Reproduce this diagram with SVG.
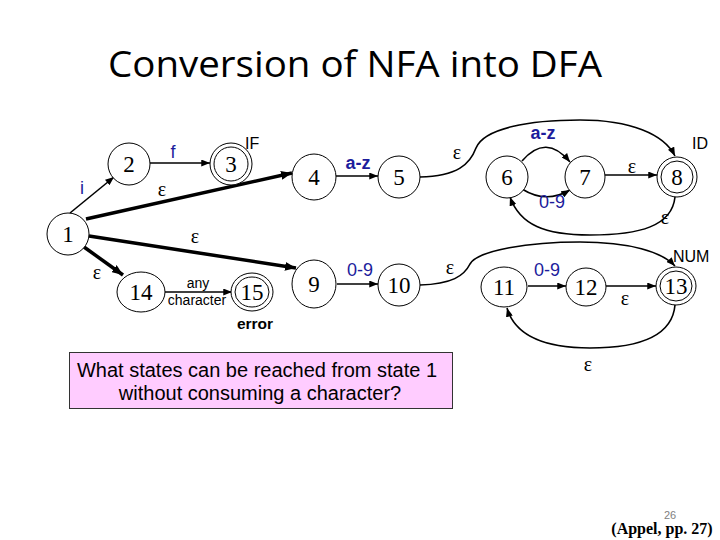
<svg xmlns="http://www.w3.org/2000/svg" width="720" height="540" viewBox="0 0 720 540">
<defs>
<marker id="ah" viewBox="0 0 10 8" refX="10" refY="4" markerWidth="9" markerHeight="7" markerUnits="userSpaceOnUse" orient="auto"><path d="M0,0 L10,4 L0,8 z" fill="#000"/></marker>
<marker id="ahb" viewBox="0 0 10 8" refX="10" refY="4" markerWidth="11" markerHeight="9" markerUnits="userSpaceOnUse" orient="auto"><path d="M0,0 L10,4 L0,8 z" fill="#000"/></marker>
<style>
.st{fill:#fff;stroke:#000;stroke-width:1}
.num{font-family:"Liberation Serif","Times New Roman",serif;font-size:23px;fill:#000;text-anchor:middle}
.e{font-family:"Liberation Serif","Times New Roman",serif;font-size:20px;fill:#000;text-anchor:middle}
.lb{font-family:"Liberation Sans",Arial,sans-serif;font-size:18px;fill:#1c1c9c;text-anchor:middle}
.tg{font-family:"Liberation Sans",Arial,sans-serif;font-size:16px;fill:#000}
.c{fill:none;stroke:#000;stroke-width:1.6}
.ct{fill:none;stroke:#000;stroke-width:3.5}
</style>
</defs>
<rect width="720" height="540" fill="#fff"/>
<text x="355" y="77" font-family="Open Sans,Liberation Sans,sans-serif" font-size="36" text-anchor="middle" textLength="494" lengthAdjust="spacingAndGlyphs">Conversion of NFA into DFA</text>

<g id="connectors">
<line class="c" x1="70" y1="213" x2="114" y2="177" marker-end="url(#ah)"/>
<line class="c" x1="150" y1="163" x2="210" y2="163" marker-end="url(#ah)"/>
<line class="ct" x1="86" y1="219" x2="292" y2="173" marker-end="url(#ahb)"/>
<line class="ct" x1="89" y1="236" x2="296" y2="268" marker-end="url(#ahb)"/>
<line class="ct" x1="84" y1="247" x2="123" y2="275" marker-end="url(#ahb)"/>
<line class="c" x1="165" y1="292" x2="232" y2="292" marker-end="url(#ah)"/>
<line class="c" x1="336" y1="176" x2="378" y2="176" marker-end="url(#ah)"/>
<line class="c" x1="337" y1="284" x2="378" y2="284" marker-end="url(#ah)"/>
<path class="c" d="M420,177 C458,176 470,164 476,148 C484,128 530,120 580,120 C630,120 664,134 675,156" marker-end="url(#ah)"/>
<path class="c" d="M522,161 Q546,133 570,162" marker-end="url(#ah)"/>
<path class="c" d="M522,189 Q546,204 570,190" marker-end="url(#ah)"/>
<line class="c" x1="605" y1="175" x2="657" y2="175" marker-end="url(#ah)"/>
<path class="c" d="M675,197 C672,226 640,235 590,235 C545,235 520,225 510,197" marker-end="url(#ah)"/>
<path class="c" d="M420,285 C452,284 464,276 470,264 C478,250 530,242 580,242 C630,242 662,252 675,266" marker-end="url(#ah)"/>
<line class="c" x1="528" y1="286" x2="566" y2="286" marker-end="url(#ah)"/>
<line class="c" x1="606" y1="286" x2="656" y2="286" marker-end="url(#ah)"/>
<path class="c" d="M675,305 C672,340 630,348 590,348 C545,348 515,336 507,308" marker-end="url(#ah)"/>
</g>

<g id="edge-labels">
<text class="lb" x="82" y="194">i</text>
<text class="lb" x="173" y="158">f</text>
<text class="e" x="162" y="196">ε</text>
<text class="e" x="195" y="243">ε</text>
<text class="e" x="97" y="279">ε</text>
<text class="lb" x="358" y="169" font-weight="bold">a-z</text>
<text class="e" x="457" y="159">ε</text>
<text class="lb" x="543" y="139" font-weight="bold">a-z</text>
<text class="lb" x="552" y="208">0-9</text>
<text class="e" x="632" y="173">ε</text>
<text class="e" x="665" y="224">ε</text>
<text class="lb" x="360" y="276">0-9</text>
<text class="e" x="450" y="274">ε</text>
<text class="lb" x="547" y="276">0-9</text>
<text class="e" x="625" y="305">ε</text>
<text class="e" x="588" y="371">ε</text>
<text font-family="Liberation Sans,Arial,sans-serif" font-size="14" text-anchor="middle" x="198" y="288">any</text>
<text font-family="Liberation Sans,Arial,sans-serif" font-size="14" text-anchor="middle" x="197" y="305">character</text>
</g>

<g id="n1"><ellipse class="st" cx="68" cy="234" rx="21" ry="21"/><text class="num" x="68" y="242">1</text></g>
<g id="n2"><ellipse class="st" cx="129" cy="164" rx="21" ry="21"/><text class="num" x="129" y="172">2</text></g>
<g id="n3"><ellipse class="st" cx="231" cy="164" rx="21" ry="21"/><ellipse class="st" cx="231" cy="164" rx="17" ry="17"/><text class="num" x="231" y="172">3</text><text class="tg" x="245" y="149">IF</text></g>
<g id="n4"><ellipse class="st" cx="314" cy="177" rx="22" ry="23"/><text class="num" x="314" y="185">4</text></g>
<g id="n5"><ellipse class="st" cx="399" cy="177" rx="21" ry="21"/><text class="num" x="399" y="185">5</text></g>
<g id="n6"><ellipse class="st" cx="507" cy="177" rx="21" ry="21"/><text class="num" x="507" y="185">6</text></g>
<g id="n7"><ellipse class="st" cx="585" cy="177" rx="20" ry="21"/><text class="num" x="585" y="185">7</text></g>
<g id="n8"><ellipse class="st" cx="677" cy="177" rx="20" ry="20"/><ellipse class="st" cx="677" cy="177" rx="16" ry="16"/><text class="num" x="677" y="185">8</text><text class="tg" x="692" y="149">ID</text></g>
<g id="n9"><ellipse class="st" cx="314" cy="284" rx="22" ry="24"/><text class="num" x="314" y="292">9</text></g>
<g id="n10"><ellipse class="st" cx="399" cy="285" rx="21" ry="21"/><text class="num" x="399" y="293">10</text></g>
<g id="n11"><ellipse class="st" cx="504" cy="287" rx="23" ry="20"/><text class="num" x="504" y="295">11</text></g>
<g id="n12"><ellipse class="st" cx="586" cy="287" rx="20" ry="19"/><text class="num" x="586" y="295">12</text></g>
<g id="n13"><ellipse class="st" cx="676" cy="286" rx="20" ry="19"/><ellipse class="st" cx="676" cy="286" rx="16" ry="15"/><text class="num" x="676" y="294">13</text><text class="tg" x="673" y="262">NUM</text></g>
<g id="n14"><ellipse class="st" cx="141" cy="292" rx="24" ry="20"/><text class="num" x="141" y="300">14</text></g>
<g id="n15"><ellipse class="st" cx="252" cy="292" rx="21" ry="19"/><ellipse class="st" cx="252" cy="292" rx="17" ry="15"/><text class="num" x="252" y="300">15</text><text x="255" y="329" font-family="Liberation Sans,Arial,sans-serif" font-size="15.5" font-weight="bold" text-anchor="middle">error</text></g>

<g id="question">
<rect x="69.5" y="352.5" width="383" height="56" fill="#ffccff" stroke="#333" stroke-width="1"/>
<text x="257" y="377" font-family="Liberation Sans,Arial,sans-serif" font-size="20" text-anchor="middle">What states can be reached from state 1</text>
<text x="260" y="400" font-family="Liberation Sans,Arial,sans-serif" font-size="20" text-anchor="middle">without consuming a character?</text>
</g>
<text x="670" y="519" font-family="Liberation Sans,Arial,sans-serif" font-size="11" fill="#808080" text-anchor="middle">26</text>
<text x="662" y="534" font-family="Liberation Serif,Times New Roman,serif" font-size="16" font-weight="bold" text-anchor="middle">(Appel, pp. 27)</text>
</svg>
